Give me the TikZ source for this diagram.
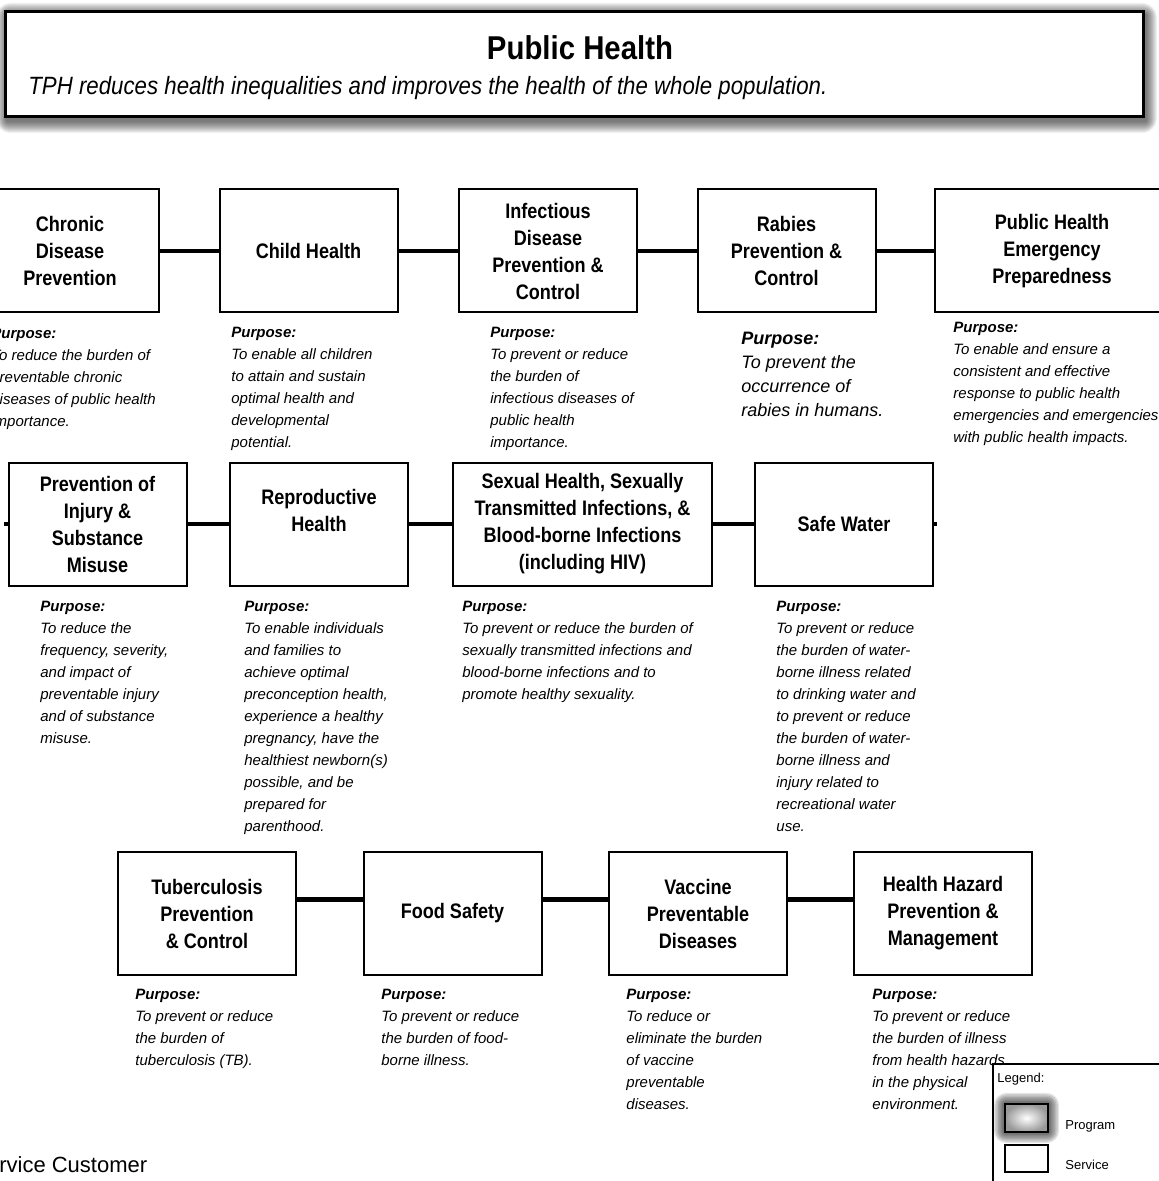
\documentclass[tikz,border=0pt]{standalone}
\usepackage{fontspec}
\setmainfont{Liberation Sans}
\newfontfamily\condfont{Liberation Sans}[FakeStretch=0.86]
\newfontfamily\headfont{Liberation Sans}[FakeStretch=0.89]

\begin{document}
\begin{tikzpicture}[x=0.5pt,y=-0.5pt,
  box/.style={draw,line width=1pt,fill=white,minimum width=89pt,minimum height=61.5pt,align=center,inner sep=2pt,font=\condfont\bfseries\fontsize{10.5}{13.5}\selectfont},
  purpose/.style={anchor=north west,align=left,inner sep=0pt,font=\itshape\fontsize{7.5}{11}\selectfont},
  link/.style={line width=2.2pt},
  small/.style={anchor=base west,inner sep=0pt,font=\fontsize{6.5}{8}\selectfont}]
\useasboundingbox (0,0) rectangle (1159,1181);

\foreach \g in {1,...,12}
  \fill[black,opacity=0.06,rounded corners=\g*0.6pt] (7-\g*0.9,15-\g) rectangle (1146+\g*0.9,121+\g);
\node[draw,line width=1.5pt,fill=white,minimum width=569pt,minimum height=52.5pt] (frame) at (574,64.5) {};
\node[font=\headfont\bfseries\fontsize{16.5}{19}\selectfont] (title) at (580,48) {Public Health};
\node[anchor=base west,inner sep=0pt,font=\headfont\itshape\fontsize{12.5}{14}\selectfont] (subtitle) at (28,95) {TPH reduces health inequalities and improves the health of the whole population.};

\node[box] at (70,251) (chronic) {Chronic\\Disease\\Prevention};
\node[box] at (308.5,251) (child) {Child Health};
\node[box] at (548,251) (infect) {Infectious\\Disease\\Prevention \&\\Control};
\node[box] at (786.5,251) (rabies) {Rabies\\Prevention \&\\Control};
\node[box,minimum width=117pt] at (1052,251) (emerg) {Public Health\\Emergency\\Preparedness};

\node[box] at (97.5,524) (injury) {Prevention of\\Injury \&\\Substance\\Misuse};
\node[box] at (319,524) (repro) {Reproductive\\Health\\~};
\node[box,minimum width=129.5pt] at (582.5,524) (sexual) {Sexual Health, Sexually\\Transmitted Infections, \&\\Blood-borne Infections\\(including HIV)};
\node[box] at (844,524) (water) {Safe Water};

\node[box] at (207,913.5) (tb) {Tuberculosis\\Prevention\\\& Control};
\node[box] at (452.5,913.5) (food) {Food Safety};
\node[box] at (698,913.5) (vaccine) {Vaccine\\Preventable\\Diseases};
\node[box] at (943,913.5) (hazard) {Health Hazard\\Prevention \&\\Management};

\coordinate (stubW) at (4,524);
\coordinate (stubE) at (937,524);

\draw[link] (chronic.east) -- (child.west);
\draw[link] (child.east) -- (infect.west);
\draw[link] (infect.east) -- (rabies.west);
\draw[link] (rabies.east) -- (emerg.west);
\draw[link] (stubW) -- (injury.west);
\draw[link] (injury.east) -- (repro.west);
\draw[link] (repro.east) -- (sexual.west);
\draw[link] (sexual.east) -- (water.west);
\draw[link] (water.east) -- (stubE);
\draw[link] ([yshift=7pt]tb.east) -- ([yshift=7pt]food.west);
\draw[link] ([yshift=7pt]food.east) -- ([yshift=7pt]vaccine.west);
\draw[link] ([yshift=7pt]vaccine.east) -- ([yshift=7pt]hazard.west);

\node[purpose] at (-9,328) (pchronic) {\textbf{Purpose:}\\To reduce the burden of\\preventable chronic\\diseases of public health\\importance.};
\node[purpose] at (231,327) (pchild) {\textbf{Purpose:}\\To enable all children\\to attain and sustain\\optimal health and\\developmental\\potential.};
\node[purpose] at (490,327) (pinfect) {\textbf{Purpose:}\\To prevent or reduce\\the burden of\\infectious diseases of\\public health\\importance.};
\node[purpose,font=\itshape\fontsize{9}{12}\selectfont] at (741,332) (prabies) {\textbf{Purpose:}\\To prevent the\\occurrence of\\rabies in humans.};
\node[purpose] at (953,322) (pemerg) {\textbf{Purpose:}\\To enable and ensure a\\consistent and effective\\response to public health\\emergencies and emergencies\\with public health impacts.};

\node[purpose] at (40,601) (pinjury) {\textbf{Purpose:}\\To reduce the\\frequency, severity,\\and impact of\\preventable injury\\and of substance\\misuse.};
\node[purpose] at (244,601) (prepro) {\textbf{Purpose:}\\To enable individuals\\and families to\\achieve optimal\\preconception health,\\experience a healthy\\pregnancy, have the\\healthiest newborn(s)\\possible, and be\\prepared for\\parenthood.};
\node[purpose] at (462,601) (psexual) {\textbf{Purpose:}\\To prevent or reduce the burden of\\sexually transmitted infections and\\blood-borne infections and to\\promote healthy sexuality.};
\node[purpose] at (776,601) (pwater) {\textbf{Purpose:}\\To prevent or reduce\\the burden of water-\\borne illness related\\to drinking water and\\to prevent or reduce\\the burden of water-\\borne illness and\\injury related to\\recreational water\\use.};

\node[purpose] at (135,989) (ptb) {\textbf{Purpose:}\\To prevent or reduce\\the burden of\\tuberculosis (TB).};
\node[purpose] at (381,989) (pfood) {\textbf{Purpose:}\\To prevent or reduce\\the burden of food-\\borne illness.};
\node[purpose] at (626,989) (pvaccine) {\textbf{Purpose:}\\To reduce or\\eliminate the burden\\of vaccine\\preventable\\diseases.};
\node[purpose] at (872,989) (phazard) {\textbf{Purpose:}\\To prevent or reduce\\the burden of illness\\from health hazards\\in the physical\\environment.};

\coordinate (legNE) at (1162,1064);
\coordinate (legSW) at (993,1184);
\draw[line width=0.8pt] (legNE) -| (legSW);
\node[small] at (997,1082) (legend) {Legend:};
\foreach \g in {1,...,8}
  \fill[black,opacity=0.1,rounded corners=\g*0.8pt] (1005-\g*1.4,1104-\g*1.4) rectangle (1048+\g*1.4,1132+\g*1.4);
\node[draw,line width=1pt,minimum width=21.5pt,minimum height=14pt,inner sep=0pt,inner color=white,outer color=gray!80] at (1026.5,1118) (prog) {};
\node[small] at (1065,1129) (progtxt) {Program};
\node[draw,line width=1pt,fill=white,minimum width=21.5pt,minimum height=13.5pt,inner sep=0pt] at (1026.5,1158.5) (serv) {};
\node[small] at (1065,1169) (servtxt) {Service};

\node[anchor=base west,inner sep=0pt,font=\fontsize{11}{12}\selectfont] at (-28,1172) (customer) {Service Customer};
\end{tikzpicture}
\end{document}
